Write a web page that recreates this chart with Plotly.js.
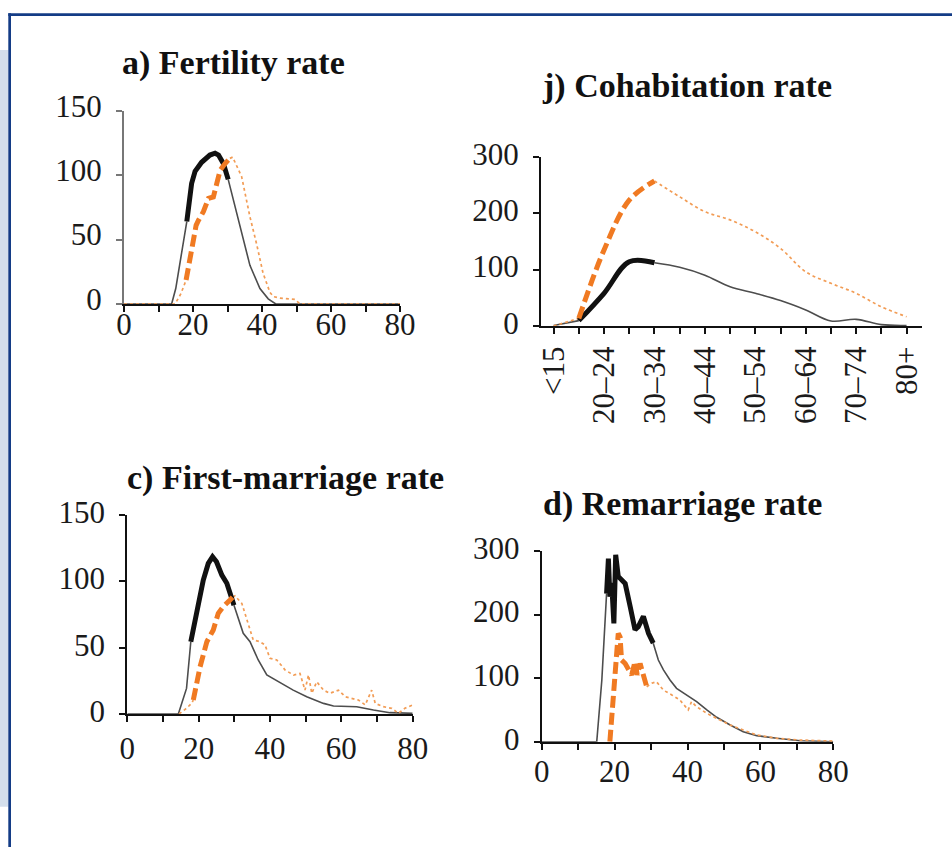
<!DOCTYPE html>
<html>
<head>
<meta charset="utf-8">
<script src="https://cdn.plot.ly/plotly-3.0.1.min.js"></script>
<style>
  html, body { margin: 0; padding: 0; background: #ffffff; }
  #chart { width: 952px; height: 847px; }
</style>
</head>
<body>
<div id="chart"></div>
<script>
// ---------- a) Fertility rate (single-year ages) ----------
const fertBlackAge = [0, 13.8, 15, 16, 17, 18.2, 19.6, 20.6, 22.5, 24.9, 26.4, 27.4, 28.8, 30.2, 32.7, 34.6, 36.5, 39.4, 41.8, 44, 80];
const fertBlackVal = [0, 0, 12, 28, 45, 64, 93.6, 103, 110, 115.6, 117, 115.6, 109, 96.7, 70, 49.6, 30, 12, 4, 0, 0];
const fertBlackBold = [18.2, 30.2];
const fertOrangeAge = [0, 14.8, 16.5, 18, 19.6, 20.9, 21.6, 23, 24.5, 25.9, 26.9, 27.9, 29.3, 30.7, 31.5, 34.1, 36.5, 38.4, 40.3, 42.3, 43.3, 45.2, 49.6, 51, 80];
const fertOrangeVal = [0, 0, 8, 18.6, 42, 61, 65, 71.6, 82, 83, 93.6, 104, 109, 113, 114, 98.8, 67.7, 47, 24, 9, 5.7, 4.6, 3.6, 0, 0];
const fertOrangeBold = [18, 30.7];

// ---------- j) Cohabitation rate (5-year age groups) ----------
const cohabGroups = ['<15', '15–19', '20–24', '25–29', '30–34', '35–39', '40–44', '45–49', '50–54', '55–59', '60–64', '65–69', '70–74', '75–79', '80+'];
const cohabTickText = ['<15', '', '20–24', '', '30–34', '', '40–44', '', '50–54', '', '60–64', '', '70–74', '', '80+'];
const cohabBlackVal = [1, 9.5, 58, 114, 112, 104, 90, 69.7, 58, 45, 28.4, 8.9, 11.8, 2.4, 1];
const cohabOrangeVal = [0, 13.6, 134.7, 223, 257, 229, 202.6, 188, 167, 137.6, 96, 75.6, 58, 34, 16.5];
const cohabBlackBold = ['15–19', '30–34'];
const cohabOrangeBold = ['15–19', '30–34'];

// ---------- c) First-marriage rate ----------
const firstBlackAge = [0, 14.3, 16.6, 17.8, 19.5, 21.3, 22.7, 23.9, 25, 26.5, 27.9, 29.3, 29.9, 32.5, 34.4, 36.7, 39.1, 42.8, 46.5, 50.3, 55, 57.8, 64.3, 69, 73.6, 80];
const firstBlackVal = [0, 0, 19.3, 54.5, 78, 101, 113.5, 118.5, 114.8, 104.7, 98.5, 87, 82, 60.8, 54.5, 40.7, 29.4, 23.6, 18, 13, 8, 6, 5.5, 3, 1, 0.5];
const firstBlackBold = [17.8, 29.9];
const firstOrangeAge = [14.5, 16.6, 18, 18.5, 20.4, 22.3, 24.1, 25.5, 26.9, 28.8, 29.5, 30.2, 32.1, 33.9, 35.3, 37.2, 38.6, 40, 41.9, 44.3, 46.6, 48.4, 49.8, 50.8, 51.7, 53.1, 55, 56.8, 59.2, 61.1, 62.9, 64.8, 66.7, 68.5, 69.5, 71.8, 74.1, 76, 77.8, 80];
const firstOrangeVal = [0, 4.3, 8, 10.5, 35.6, 54.5, 63.3, 75.9, 80.9, 86, 88, 89, 83.4, 68.3, 55.8, 54.5, 52, 42, 40.7, 33, 29.4, 30.6, 18, 29.4, 15.6, 24.3, 18, 15.6, 18, 13, 11.8, 10.5, 6.8, 18, 8, 5.5, 4.3, 0.5, 4.3, 6.8];
const firstOrangeBold = [18.5, 29.5];

// ---------- d) Remarriage rate ----------
const remarBlackAge = [0, 15.1, 16.5, 17.4, 17.8, 18.3, 18.7, 19.2, 19.8, 20.3, 21, 21.9, 22.9, 24.3, 25.6, 26.5, 27.9, 29.3, 30.6, 32, 33.4, 35.2, 37, 39.8, 42.5, 45.3, 48, 51.7, 55.3, 59, 64.5, 70.9, 80];
const remarBlackVal = [0, 0, 97, 191, 233, 288, 228, 250, 186, 294, 260, 254, 249, 212, 176, 181, 197, 170.5, 155, 128.5, 113, 97, 84, 73.5, 63, 50, 38.4, 26.3, 15.7, 9.5, 5.3, 1.6, 0];
const remarBlackBold = [17.8, 30.6];
const remarOrangeAge = [18.7, 20.1, 21, 21.5, 21.9, 22.9, 23.8, 24.7, 25.6, 26.2, 27, 27.9, 28.8, 30.2, 31.5, 33.4, 35.7, 37.9, 40.2, 41.1, 42.5, 45.3, 48, 51.7, 55.3, 59, 64.5, 70.9, 80];
const remarOrangeVal = [0, 97, 170.5, 165, 128.5, 123, 113, 105, 126, 105, 123, 102, 86.5, 92, 94.4, 81, 73.5, 65.6, 50, 63, 55, 44.6, 36.7, 26.3, 18.4, 10.5, 5.3, 2.6, 1];
const remarOrangeBold = [18.7, 28.8];

// ---------- styling ----------
const W = 952, H = 847;
const px = p => p / W;
const py = p => 1 - p / H;
const SERIF = '"Liberation Serif", "Times New Roman", serif';
const BLACK = '#111111', GRAY = '#4d4d4d', ORANGE = '#F07A22', ORANGE_LT = '#F29C55';

function split(xs, ys, lo, hi) {
  return {
    bold: ys.map((v, i) => (xs[i] >= lo && xs[i] <= hi) ? v : null),
    thin: ys.map((v, i) => (xs[i] <= lo || xs[i] >= hi) ? v : null)
  };
}

const traces = [];
function addPanel(ax, xs1, ys1, b1, xs2, ys2, b2, shape) {
  const k = split(xs1, ys1, b1[0], b1[1]);
  const o = split(xs2, ys2, b2[0], b2[1]);
  const common = { type: 'scatter', mode: 'lines', xaxis: 'x' + ax, yaxis: 'y' + ax, hoverinfo: 'skip', showlegend: false, connectgaps: false };
  traces.push(Object.assign({}, common, { x: xs1, y: k.thin, line: { color: GRAY, width: 1.6, shape: shape } }));
  traces.push(Object.assign({}, common, { x: xs2, y: o.thin, line: { color: ORANGE_LT, width: 1.7, dash: 'dot', shape: shape } }));
  traces.push(Object.assign({}, common, { x: xs1, y: k.bold, line: { color: BLACK, width: 5, shape: shape } }));
  traces.push(Object.assign({}, common, { x: xs2, y: o.bold, line: { color: ORANGE, width: 5, dash: '12px,5px', shape: shape } }));
}

const cohabIdx = cohabGroups.map((g, i) => i);
addPanel('', fertBlackAge, fertBlackVal, fertBlackBold, fertOrangeAge, fertOrangeVal, fertOrangeBold, 'linear');
addPanel('2', cohabIdx, cohabBlackVal, [cohabGroups.indexOf(cohabBlackBold[0]), cohabGroups.indexOf(cohabBlackBold[1])],
         cohabIdx, cohabOrangeVal, [cohabGroups.indexOf(cohabOrangeBold[0]), cohabGroups.indexOf(cohabOrangeBold[1])], 'spline');
addPanel('3', firstBlackAge, firstBlackVal, firstBlackBold, firstOrangeAge, firstOrangeVal, firstOrangeBold, 'linear');
addPanel('4', remarBlackAge, remarBlackVal, remarBlackBold, remarOrangeAge, remarOrangeVal, remarOrangeBold, 'linear');

const ageTicks = [0, 10, 20, 30, 40, 50, 60, 70, 80];
const ageText = ageTicks.map(t => (t % 20 === 0 ? String(t) : ''));

function axis(extra, color) {
  return Object.assign({
    showgrid: false, zeroline: false, showline: true, linecolor: color, linewidth: 2,
    ticks: 'outside', ticklen: 6, tickwidth: 2, tickcolor: color,
    tickfont: { family: SERIF, size: 31, color: '#1a1a1a' },
    tickmode: 'array', fixedrange: true, automargin: false
  }, extra);
}

const layout = {
  width: W, height: H,
  margin: { l: 0, r: 0, t: 0, b: 0, pad: 0, autoexpand: false },
  paper_bgcolor: '#ffffff', plot_bgcolor: 'rgba(0,0,0,0)',
  showlegend: false,
  xaxis: axis({ domain: [px(124), px(400)], range: [0, 80], tickvals: ageTicks, ticktext: ageText, anchor: 'y', ticklabelstandoff: -14 }, '#111'),
  yaxis: axis({ domain: [py(304), py(110.7)], range: [0, 150], tickvals: [0, 50, 100, 150], ticktext: ['0', '50', '100', '150'], anchor: 'x', ticklabelstandoff: 8, ticklabelshift: -5 }, '#777'),
  xaxis2: axis({ domain: [px(541), px(921.7)], range: [-0.5, 14.6], tickvals: cohabIdx, ticktext: cohabTickText, tickangle: -90, anchor: 'y2' }, '#111'),
  yaxis2: axis({ domain: [py(326), py(156.7)], range: [0, 300], tickvals: [0, 100, 200, 300], ticktext: ['0', '100', '200', '300'], anchor: 'x2', ticklabelstandoff: 8, ticklabelshift: -3 }, '#111'),
  xaxis3: axis({ domain: [px(127.3), px(412.7)], range: [0, 80], tickvals: ageTicks, ticktext: ageText, anchor: 'y3' }, '#111'),
  yaxis3: axis({ domain: [py(714), py(515)], range: [0, 150], tickvals: [0, 50, 100, 150], ticktext: ['0', '50', '100', '150'], anchor: 'x3', ticklabelstandoff: 8, ticklabelshift: -3 }, '#111'),
  xaxis4: axis({ domain: [px(541.7), px(833.3)], range: [0, 80], tickvals: ageTicks, ticktext: ageText, anchor: 'y4', ticklabelstandoff: -5 }, '#111'),
  yaxis4: axis({ domain: [py(741.7), py(551)], range: [0, 300], tickvals: [0, 100, 200, 300], ticktext: ['0', '100', '200', '300'], anchor: 'x4', ticklabelstandoff: 8, ticklabelshift: -3 }, '#111'),
  annotations: [
    ['a) Fertility rate', 120, 63],
    ['j) Cohabitation rate', 539.5, 86],
    ['c) First-marriage rate', 125, 477.5],
    ['d) Remarriage rate', 541, 504]
  ].map(([t, x, y]) => ({
    text: '<b>' + t + '</b>', xref: 'paper', yref: 'paper', x: px(x), y: py(y),
    xanchor: 'left', yanchor: 'middle', showarrow: false,
    font: { family: SERIF, size: 34, color: '#111' }
  })),
  shapes: [
    { type: 'rect', xref: 'paper', yref: 'paper', x0: 0, x1: px(8.3), y0: py(806.7), y1: py(50), fillcolor: '#D4DFEC', line: { width: 0 }, layer: 'below' },
    { type: 'rect', xref: 'paper', yref: 'paper', x0: px(8.3), x1: 1, y0: py(16), y1: py(13.3), fillcolor: '#143C86', line: { width: 0 }, layer: 'above' },
    { type: 'rect', xref: 'paper', yref: 'paper', x0: px(8.3), x1: px(11), y0: 0, y1: py(13.3), fillcolor: '#143C86', line: { width: 0 }, layer: 'above' },
    { type: 'rect', xref: 'paper', yref: 'paper', x0: px(520), x1: px(935), y0: py(446), y1: py(429), fillcolor: '#ffffff', line: { width: 0 }, layer: 'above' }
  ]
};

Plotly.newPlot('chart', traces, layout, { displayModeBar: false, staticPlot: true });
</script>
</body>
</html>
